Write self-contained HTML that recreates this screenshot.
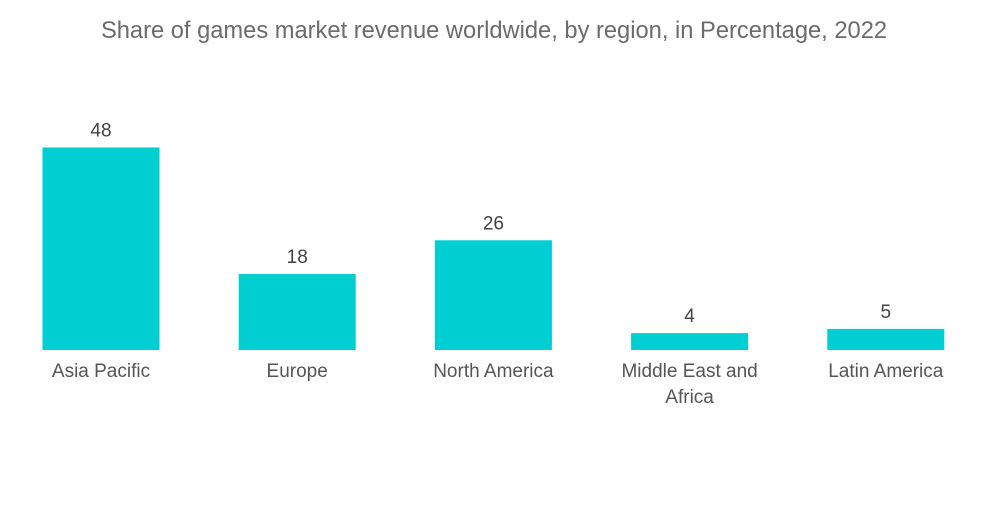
<!DOCTYPE html>
<html><head><meta charset="utf-8"><style>
body{margin:0;background:#fff;width:1000px;height:504px;overflow:hidden;font-family:"Liberation Sans",sans-serif}
</style></head><body>
<svg id="chart" width="1000" height="504">
<text x="494" y="38" text-anchor="middle" font-size="23.7" fill="#6b6b6b">Share of games market revenue worldwide, by region, in Percentage, 2022</text>
<g id="bars"></g>
</svg>
<script>
const categories=["Asia Pacific","Europe","North America","Middle East and|Africa","Latin America"];
const values=[48,18,26,4,5];
const valueLabels=["48","18","26","4","5"];
const baseY=350, scale=4.22, x0=101, step=196.2, bw=117;
function xPos(i){return x0+i*step;}
function yPos(v){return baseY-v*scale;}
const g=document.getElementById('bars');
const ns='http://www.w3.org/2000/svg';
categories.forEach((c,i)=>{
  const r=document.createElementNS(ns,'rect');
  
  
  r.setAttribute('x',xPos(i)-bw/2);r.setAttribute('y',yPos(values[i]));
  r.setAttribute('width',bw);r.setAttribute('height',baseY-yPos(values[i]));
  r.setAttribute('fill','#00ced1');g.appendChild(r);
  const t=document.createElementNS(ns,'text');
  
  
  t.setAttribute('x',xPos(i));t.setAttribute('y',yPos(values[i])-11);
  t.setAttribute('text-anchor','middle');t.setAttribute('font-size','19');t.setAttribute('fill','#444');
  t.textContent=valueLabels[i];g.appendChild(t);
  c.split('|').forEach((line,j)=>{
    const l=document.createElementNS(ns,'text');
    
    
    l.setAttribute('x',xPos(i));l.setAttribute('y',377+j*26);
    l.setAttribute('text-anchor','middle');l.setAttribute('font-size','19');l.setAttribute('fill','#555');
    l.textContent=line;g.appendChild(l);
  });
});
</script>
</body></html>
